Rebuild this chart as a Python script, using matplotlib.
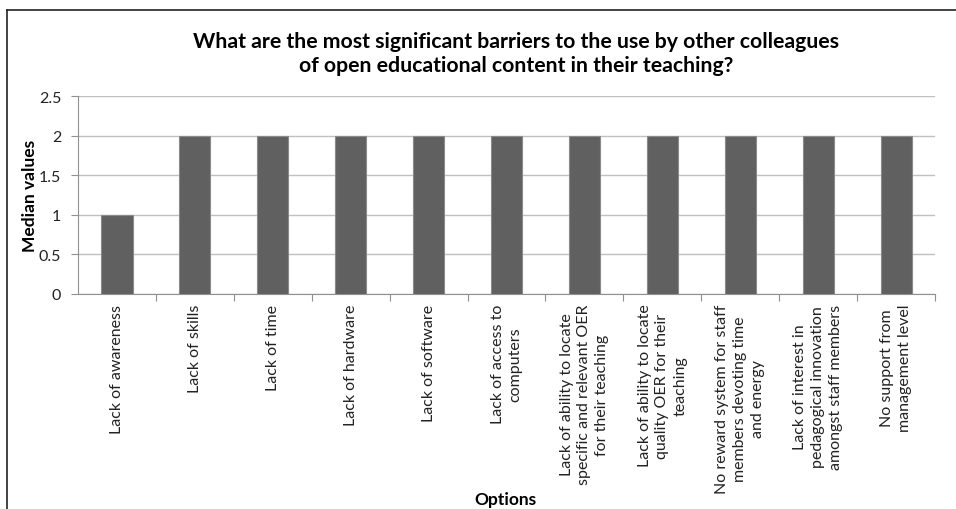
import matplotlib.pyplot as plt
from matplotlib.lines import Line2D

options = [
    "Lack of awareness",
    "Lack of skills",
    "Lack of time",
    "Lack of hardware",
    "Lack of software",
    "Lack of access to\ncomputers",
    "Lack of ability to locate\nspecific and relevant OER\nfor their teaching",
    "Lack of ability to locate\nquality OER for their\nteaching",
    "No reward system for staff\nmembers devoting time\nand energy",
    "Lack of interest in\npedagogical innovation\namongst staff members",
    "No support from\nmanagement level",
]
medians = [1, 2, 2, 2, 2, 2, 2, 2, 2, 2, 2]
yticks = [0, 0.5, 1, 1.5, 2, 2.5]

plt.rcParams['font.family'] = ['Lato', 'DejaVu Sans']

fig = plt.figure(figsize=(9.56, 5.10), dpi=100)
ax = fig.add_axes([0.0816, 0.4216, 0.8965, 0.3882])

x = range(len(options))
ax.bar(x, medians, width=0.4, color='#606060', edgecolor='#8a8a8a',
       linewidth=0.8, zorder=3)

ax.set_xlim(-0.5, len(options) - 0.5)
ax.set_ylim(0, 2.5)
ax.set_yticks(yticks)
ax.set_yticklabels(['0', '0.5', '1', '1.5', '2', '2.5'], fontsize=11.5, color='#222222')
ax.yaxis.grid(True, color='#c0c0c0', linewidth=1, zorder=0)

ax.set_xticks([i + 0.5 for i in x], minor=False)
ax.set_xticklabels([])
ax.set_xticks(list(x), minor=True)
ax.set_xticklabels(options, minor=True, rotation=90, fontsize=11.5,
                   va='top', ha='center', multialignment='center',
                   color='#222222', linespacing=1.35)
ax.tick_params(axis='x', which='minor', length=0, pad=7)
ax.tick_params(axis='x', which='major', length=5, color='#909090')
ax.tick_params(axis='y', length=5, color='#909090', pad=7)

for side in ['top', 'right']:
    ax.spines[side].set_visible(False)
ax.spines['left'].set_color('#909090')
ax.spines['bottom'].set_color('#909090')

ax.set_ylabel('Median values', fontsize=12.5, fontweight='bold', labelpad=1)
fig.text(0.529, 0.02, 'Options', fontsize=12.5, fontweight='bold', ha='center', va='center')

fig.text(0.540, 0.895,
         'What are the most significant barriers to the use by other colleagues\n'
         'of open educational content in their teaching?',
         fontsize=15.3, fontweight='bold', ha='center', va='center', linespacing=1.25)

# outer chart border (top and left edges visible)
fig.add_artist(Line2D([7 / 956, 1.0], [1 - 11 / 510, 1 - 11 / 510],
                      color='#222222', linewidth=1.2, transform=fig.transFigure))
fig.add_artist(Line2D([7 / 956, 7 / 956], [0, 1 - 11 / 510],
                      color='#222222', linewidth=1.2, transform=fig.transFigure))

fig.savefig('out.png', dpi=100)
